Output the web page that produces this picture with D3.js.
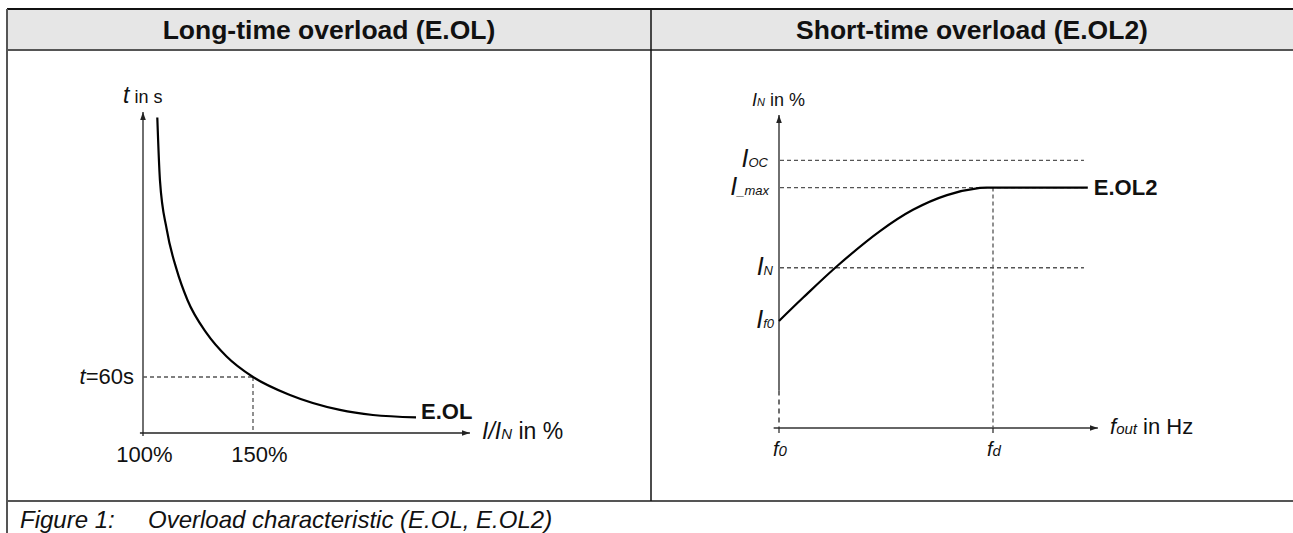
<!DOCTYPE html>
<html><head><meta charset="utf-8">
<script src="https://cdn.jsdelivr.net/npm/d3@7"></script>
<style>
body{margin:0;background:#fff}
svg{display:block}
text{font-family:"Liberation Sans",Arial,Helvetica,sans-serif;fill:#111}
</style>
</head><body>
<svg id="c" width="1293" height="533"></svg>
<script>
// ---------- data ----------
const panelTitles = ["Long-time overload (E.OL)", "Short-time overload (E.OL2)"];
const captionNumber = "Figure 1:";
const captionText = "Overload characteristic (E.OL, E.OL2)";

// Left panel: E.OL (current I/IN in %, time t in s)
const eolCurrent = [106.5, 107.7, 110.8, 115.3, 120.2, 128.9, 138.0, 150, 166.8, 189.5, 204.5, 224.1];
const eolTime    = [338,   271,   218,   175,   142.5, 107,   82,    60,  40.7,  24.7,  19.3,  16.8];
const leftXTicks = [100, 150];
const leftXTickLabels = ["100%", "150%"];
const leftYTick = 60;
const eolLabel = "E.OL";

// Right panel: E.OL2 (output frequency, current in % of IN)
const eol2Freq    = [0,    0.112, 0.276, 0.472, 0.626, 0.785, 0.939, 1.0,  1.443];
const eol2Current = [34.2, 41.6,  52.0,  62.9,  69.7,  74.4,  76.7,  76.8, 76.8];
const rightLevelValues = [85.5, 76.8, 51.2, 34.3];
const rightLevelMain = ["I", "I", "I", "I"];
const rightLevelSub  = ["OC", "_max", "N", "f0"];
const rightLevelDashed = [true, true, true, false];
const rightXTicks = [0, 1];
const rightXTickMain = ["f", "f"];
const rightXTickSub  = ["0", "d"];
const eol2Label = "E.OL2";

// ---------- drawing ----------
const svg = d3.select("#c");
const W = 1293, H = 533;

// table frame
const tblLeft = 7, tblTop = 9, headBottom = 50, divX = 651, bodyBottom = 501;
svg.append("rect").attr("x", tblLeft).attr("y", tblTop).attr("width", W - tblLeft).attr("height", headBottom - tblTop).attr("fill", "#e6e6e6");
svg.append("line").attr("x1", tblLeft).attr("x2", W).attr("y1", tblTop).attr("y2", tblTop).attr("stroke", "#111").attr("stroke-width", 2);
svg.append("line").attr("x1", tblLeft).attr("x2", W).attr("y1", headBottom).attr("y2", headBottom).attr("stroke", "#555").attr("stroke-width", 2);
svg.append("line").attr("x1", tblLeft).attr("x2", W).attr("y1", bodyBottom).attr("y2", bodyBottom).attr("stroke", "#555").attr("stroke-width", 2);
svg.append("line").attr("x1", tblLeft).attr("x2", tblLeft).attr("y1", tblTop).attr("y2", H).attr("stroke", "#555").attr("stroke-width", 2);
svg.append("line").attr("x1", divX).attr("x2", divX).attr("y1", tblTop).attr("y2", bodyBottom).attr("stroke", "#111").attr("stroke-width", 1.5);

const titleCenters = [(tblLeft + divX) / 2, (divX + W) / 2];
svg.selectAll("text.title").data(panelTitles).join("text").attr("class", "title")
  .attr("x", (d, i) => titleCenters[i]).attr("y", 39).attr("text-anchor", "middle")
  .style("font-weight", "bold").style("font-size", "26.5px").text(d => d);

// caption
svg.append("text").attr("x", 20).attr("y", 528).style("font-style", "italic").style("font-size", "24px").text(captionNumber);
svg.append("text").attr("x", 148).attr("y", 528).style("font-style", "italic").style("font-size", "24px").text(captionText);

// arrow marker
const defs = svg.append("defs");
defs.append("marker").attr("id", "arr").attr("viewBox", "0 0 10 10").attr("refX", 10).attr("refY", 5)
  .attr("markerWidth", 8).attr("markerHeight", 8).attr("markerUnits", "userSpaceOnUse").attr("orient", "auto")
  .append("path").attr("d", "M0,1.5 L10,5 L0,8.5 Z").attr("fill", "#222");

const axisColor = "#222", dashColor = "#555";

// ===== Left panel =====
const xL = d3.scaleLinear().domain([100, 150]).range([143, 253]);
const yL = d3.scaleLinear().domain([0, 60]).range([433, 377]);
const gL = svg.append("g");
gL.append("line").attr("x1", xL(100)).attr("x2", xL(100)).attr("y1", yL(-3.2)).attr("y2", yL(344))
  .attr("stroke", axisColor).attr("stroke-width", 1.3).attr("marker-end", "url(#arr)");
gL.append("line").attr("x1", xL(98.6)).attr("x2", xL(248.6)).attr("y1", yL(0)).attr("y2", yL(0))
  .attr("stroke", axisColor).attr("stroke-width", 1.3).attr("marker-end", "url(#arr)");
gL.append("line").attr("x1", xL(100)).attr("x2", xL(150)).attr("y1", yL(leftYTick)).attr("y2", yL(leftYTick))
  .attr("stroke", dashColor).attr("stroke-width", 1.3).attr("stroke-dasharray", "4,3");
gL.append("line").attr("x1", xL(150)).attr("x2", xL(150)).attr("y1", yL(leftYTick)).attr("y2", yL(0))
  .attr("stroke", dashColor).attr("stroke-width", 1.3).attr("stroke-dasharray", "4,3");
const lineL = d3.line().x((d, i) => xL(eolCurrent[i])).y(d => yL(d)).curve(d3.curveMonotoneX);
gL.append("path").attr("d", lineL(eolTime)).attr("fill", "none").attr("stroke", "#000").attr("stroke-width", 2.2);
const leftTickDx = [1.5, 6.5];
gL.selectAll("text.xt").data(leftXTicks).join("text").attr("class", "xt")
  .attr("x", (d, i) => xL(d) + leftTickDx[i]).attr("y", 462).attr("text-anchor", "middle")
  .style("font-size", "22px").text((d, i) => leftXTickLabels[i]);
const t60 = gL.append("text").attr("x", 134).attr("y", yL(leftYTick) + 6.5).attr("text-anchor", "end").style("font-size", "22px");
t60.append("tspan").style("font-style", "italic").text("t");
t60.append("tspan").text("=" + leftYTick + "s");
const tT = gL.append("text").attr("x", 123).attr("y", 103);
tT.append("tspan").style("font-style", "italic").style("font-size", "23px").text("t");
tT.append("tspan").style("font-size", "18px").text(" in s");
const xT = gL.append("text").attr("x", 482).attr("y", 439);
xT.append("tspan").style("font-style", "italic").style("font-size", "23px").text("I/I");
xT.append("tspan").style("font-style", "italic").style("font-size", "15px").text("N");
xT.append("tspan").style("font-size", "23px").text(" in %");
gL.append("text").attr("x", xL(eolCurrent[eolCurrent.length - 1]) + 5).attr("y", 419)
  .style("font-weight", "bold").style("font-size", "22px").text(eolLabel);

// ===== Right panel =====
const xR = d3.scaleLinear().domain([0, 1]).range([779, 993]);
const yR = d3.scaleLinear().domain([0, 100]).range([428, 115]);
const gR = svg.append("g");
gR.append("line").attr("x1", xR(0)).attr("x2", xR(0)).attr("y1", yR(12)).attr("y2", yR(100))
  .attr("stroke", axisColor).attr("stroke-width", 1.3).attr("marker-end", "url(#arr)");
gR.append("line").attr("x1", xR(0)).attr("x2", xR(0)).attr("y1", yR(12)).attr("y2", yR(0))
  .attr("stroke", axisColor).attr("stroke-width", 1.3).attr("stroke-dasharray", "5,4");
gR.append("line").attr("x1", xR(-0.025)).attr("x2", xR(1.49)).attr("y1", yR(0)).attr("y2", yR(0))
  .attr("stroke", "#333").attr("stroke-width", 1.6).attr("marker-end", "url(#arr)");
gR.selectAll("line.tk").data(rightXTicks).join("line").attr("class", "tk")
  .attr("x1", d => xR(d)).attr("x2", d => xR(d)).attr("y1", yR(0)).attr("y2", yR(0) + 5)
  .attr("stroke", axisColor).attr("stroke-width", 1.2);
gR.selectAll("line.lv").data(rightLevelValues.filter((d, i) => rightLevelDashed[i])).join("line").attr("class", "lv")
  .attr("x1", xR(0) + 1).attr("x2", xR(1.425)).attr("y1", d => yR(d)).attr("y2", d => yR(d))
  .attr("stroke", dashColor).attr("stroke-width", 1.3).attr("stroke-dasharray", "4,3");
gR.append("line").attr("x1", xR(1)).attr("x2", xR(1)).attr("y1", yR(eol2Current[7])).attr("y2", yR(0))
  .attr("stroke", dashColor).attr("stroke-width", 1.3).attr("stroke-dasharray", "4,3");
const lineR = d3.line().x((d, i) => xR(eol2Freq[i])).y(d => yR(d)).curve(d3.curveCatmullRom.alpha(0.5));
gR.append("path").attr("d", lineR(eol2Current)).attr("fill", "none").attr("stroke", "#000").attr("stroke-width", 2.2);
const lvlEnd = [768, 769, 773, 774];
const lvl = gR.selectAll("text.lvl").data(rightLevelValues).join("text").attr("class", "lvl")
  .attr("x", (d, i) => lvlEnd[i]).attr("y", d => yR(d) + 7).attr("text-anchor", "end");
lvl.append("tspan").style("font-style", "italic").style("font-size", "25px").text((d, i) => rightLevelMain[i]);
lvl.append("tspan").style("font-style", "italic").style("font-size", "13px").text((d, i) => rightLevelSub[i]);
const xtl = gR.selectAll("text.xtl").data(rightXTicks).join("text").attr("class", "xtl")
  .attr("x", d => xR(d) + 1).attr("y", 456).attr("text-anchor", "middle");
xtl.append("tspan").style("font-style", "italic").style("font-size", "20px").text((d, i) => rightXTickMain[i]);
xtl.append("tspan").style("font-style", "italic").style("font-size", "15px").text((d, i) => rightXTickSub[i]);
const yT = gR.append("text").attr("x", 752).attr("y", 106);
yT.append("tspan").style("font-style", "italic").style("font-size", "18px").text("I");
yT.append("tspan").style("font-style", "italic").style("font-size", "11px").text("N");
yT.append("tspan").style("font-size", "18px").text(" in %");
const fT = gR.append("text").attr("x", 1110).attr("y", 434);
fT.append("tspan").style("font-style", "italic").style("font-size", "22px").text("f");
fT.append("tspan").style("font-style", "italic").style("font-size", "15px").text("out");
fT.append("tspan").style("font-size", "22px").text(" in Hz");
gR.append("text").attr("x", xR(eol2Freq[eol2Freq.length - 1]) + 6).attr("y", yR(eol2Current[eol2Current.length - 1]) + 7)
  .style("font-weight", "bold").style("font-size", "22px").text(eol2Label);
</script>
</body></html>
